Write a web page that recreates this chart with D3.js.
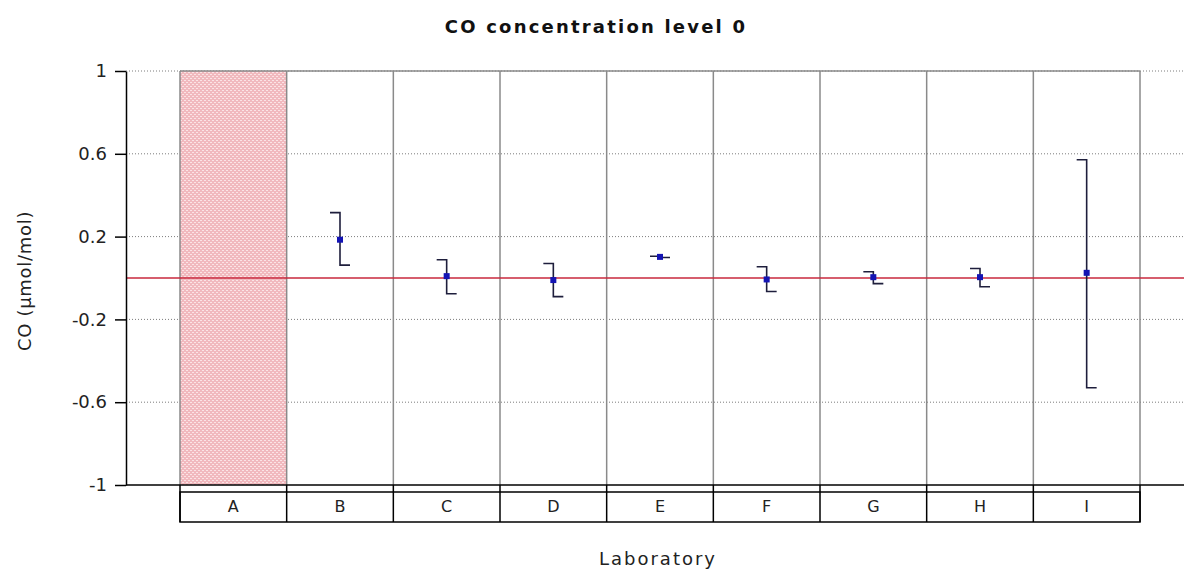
<!DOCTYPE html>
<html>
<head>
<meta charset="utf-8">
<script src="https://cdn.jsdelivr.net/npm/d3@7"></script>
<style>
  html, body { margin: 0; padding: 0; background: #fff; }
  svg { display: block; font-family: "DejaVu Sans", "Liberation Sans", Arial, sans-serif; }
</style>
</head>
<body>
<svg id="chart" width="1184" height="569"></svg>
<script>
// ---- data ----
const categories = ["A", "B", "C", "D", "E", "F", "G", "H", "I"];
const excluded = ["A"];
const means  = [null, 0.185, 0.009, -0.010, 0.102, -0.007, 0.004, 0.004, 0.025];
const uppers = [null, 0.316, 0.088,  0.070, 0.105,  0.054, 0.030, 0.046, 0.571];
const lowers = [null, 0.062, -0.076, -0.090, 0.099, -0.065, -0.027, -0.042, -0.530];
const yTicks = [1, 0.6, 0.2, -0.2, -0.6, -1];
const referenceValue = 0;
const titleText = "CO concentration level 0";
const yLabel = "CO (µmol/mol)";
const xLabel = "Laboratory";

// ---- layout ----
const svg = d3.select("#chart");
const FONT = "\"DejaVu Sans\", \"Liberation Sans\", Arial, sans-serif";
const axisX = 126, plotRight = 1184, plotTop = 71, plotBottom = 485;
const colLeft = 180, colRight = 1140;

const x = d3.scaleBand().domain(categories).range([colLeft, colRight]).padding(0);
const y = d3.scaleLinear().domain([-1, 1]).range([plotBottom, plotTop]);

// pattern for excluded lab
const defs = svg.append("defs");
const pat = defs.append("pattern").attr("id", "pinkdots")
  .attr("patternUnits", "userSpaceOnUse").attr("width", 4).attr("height", 4);
pat.append("rect").attr("width", 4).attr("height", 4).attr("fill", "#f1b9be");
pat.append("rect").attr("x", 0).attr("y", 0).attr("width", 2).attr("height", 1).attr("fill", "#fbe3e5");
pat.append("rect").attr("x", 2).attr("y", 2).attr("width", 2).attr("height", 1).attr("fill", "#fbe3e5");

// gridlines
svg.append("g").selectAll("line").data(yTicks.filter(d => d !== -1)).join("line")
  .attr("x1", axisX).attr("x2", plotRight)
  .attr("y1", d => y(d)).attr("y2", d => y(d))
  .attr("stroke", "#7c7c7c").attr("stroke-width", 1).attr("stroke-dasharray", "1,2");

// excluded column fill
svg.append("g").selectAll("rect").data(excluded).join("rect")
  .attr("x", d => x(d)).attr("y", plotTop)
  .attr("width", x.bandwidth()).attr("height", plotBottom - plotTop)
  .attr("fill", "url(#pinkdots)");

// column frames
const edges = categories.map(c => x(c)).concat([x(categories[categories.length - 1]) + x.bandwidth()]);
svg.append("g").selectAll("line").data(edges).join("line")
  .attr("x1", d => d).attr("x2", d => d)
  .attr("y1", plotTop).attr("y2", plotBottom)
  .attr("stroke", "#8a8a8a").attr("stroke-width", 1.5);
svg.append("line")
  .attr("x1", colLeft).attr("x2", colRight)
  .attr("y1", plotTop).attr("y2", plotTop)
  .attr("stroke", "#8a8a8a").attr("stroke-width", 1.5);

// reference line
svg.append("line")
  .attr("x1", axisX).attr("x2", plotRight)
  .attr("y1", y(referenceValue)).attr("y2", y(referenceValue))
  .attr("stroke", "#c8283c").attr("stroke-width", 1.5);

// error bars
const pts = categories.map((c, i) => ({ c, m: means[i], u: uppers[i], l: lowers[i] }))
  .filter(d => d.m !== null);
const cap = 10;
const eb = svg.append("g").attr("stroke", "#1e1e3c").attr("stroke-width", 1.6).attr("fill", "none");
pts.forEach(d => {
  const cx = x(d.c) + x.bandwidth() / 2;
  eb.append("path").attr("d",
    `M${cx - cap},${y(d.u)}H${cx}V${y(d.l)}H${cx + cap}`);
});
svg.append("g").selectAll("rect").data(pts).join("rect")
  .attr("x", d => x(d.c) + x.bandwidth() / 2 - 3)
  .attr("y", d => y(d.m) - 3)
  .attr("width", 6).attr("height", 6)
  .attr("fill", "#1414b4");

// y axis
const yAxis = d3.axisLeft(y).tickValues(yTicks).tickSize(11).tickSizeOuter(0)
  .tickPadding(8).tickFormat(d => d3.format("")(d).replace("−", "-"));
const gy = svg.append("g").attr("transform", `translate(${axisX},0)`).call(yAxis);
gy.select(".domain").attr("stroke", "#000").attr("stroke-width", 1.5);
gy.selectAll(".tick line").attr("stroke", "#000").attr("stroke-width", 1.5);
gy.selectAll(".tick text").attr("font-size", 18).attr("fill", "#222")
  .attr("font-family", FONT);

// x axis baseline
svg.append("line")
  .attr("x1", axisX).attr("x2", plotRight)
  .attr("y1", plotBottom).attr("y2", plotBottom)
  .attr("stroke", "#000").attr("stroke-width", 1.5);

// category label box
const boxTop = 492, boxBottom = 522;
svg.append("rect").attr("x", colLeft).attr("y", boxTop)
  .attr("width", colRight - colLeft).attr("height", boxBottom - boxTop)
  .attr("fill", "none").attr("stroke", "#000").attr("stroke-width", 1.5);
svg.append("g").selectAll("line").data(edges).join("line")
  .attr("x1", d => d).attr("x2", d => d)
  .attr("y1", plotBottom).attr("y2", boxBottom)
  .attr("stroke", "#000").attr("stroke-width", 1.5);
const xAxis = d3.axisBottom(x).tickSize(0).tickPadding(0);
const gx = svg.append("g").attr("transform", `translate(0,${boxTop + 9})`).call(xAxis);
gx.select(".domain").remove();
gx.selectAll(".tick text").attr("font-size", 16).attr("fill", "#222")
  .attr("font-family", FONT);

// titles
svg.append("text").attr("x", 596).attr("y", 33).attr("text-anchor", "middle")
  .attr("font-size", 18).attr("font-weight", "bold").attr("letter-spacing", 2.2)
  .attr("fill", "#111").text(titleText);
svg.append("text").attr("transform", "translate(31,281) rotate(-90)")
  .attr("text-anchor", "middle").attr("font-size", 18).attr("letter-spacing", 0.7)
  .attr("fill", "#222").text(yLabel);
svg.append("text").attr("x", 658).attr("y", 565).attr("text-anchor", "middle")
  .attr("font-size", 18).attr("letter-spacing", 2).attr("fill", "#222").text(xLabel);
</script>
</body>
</html>
